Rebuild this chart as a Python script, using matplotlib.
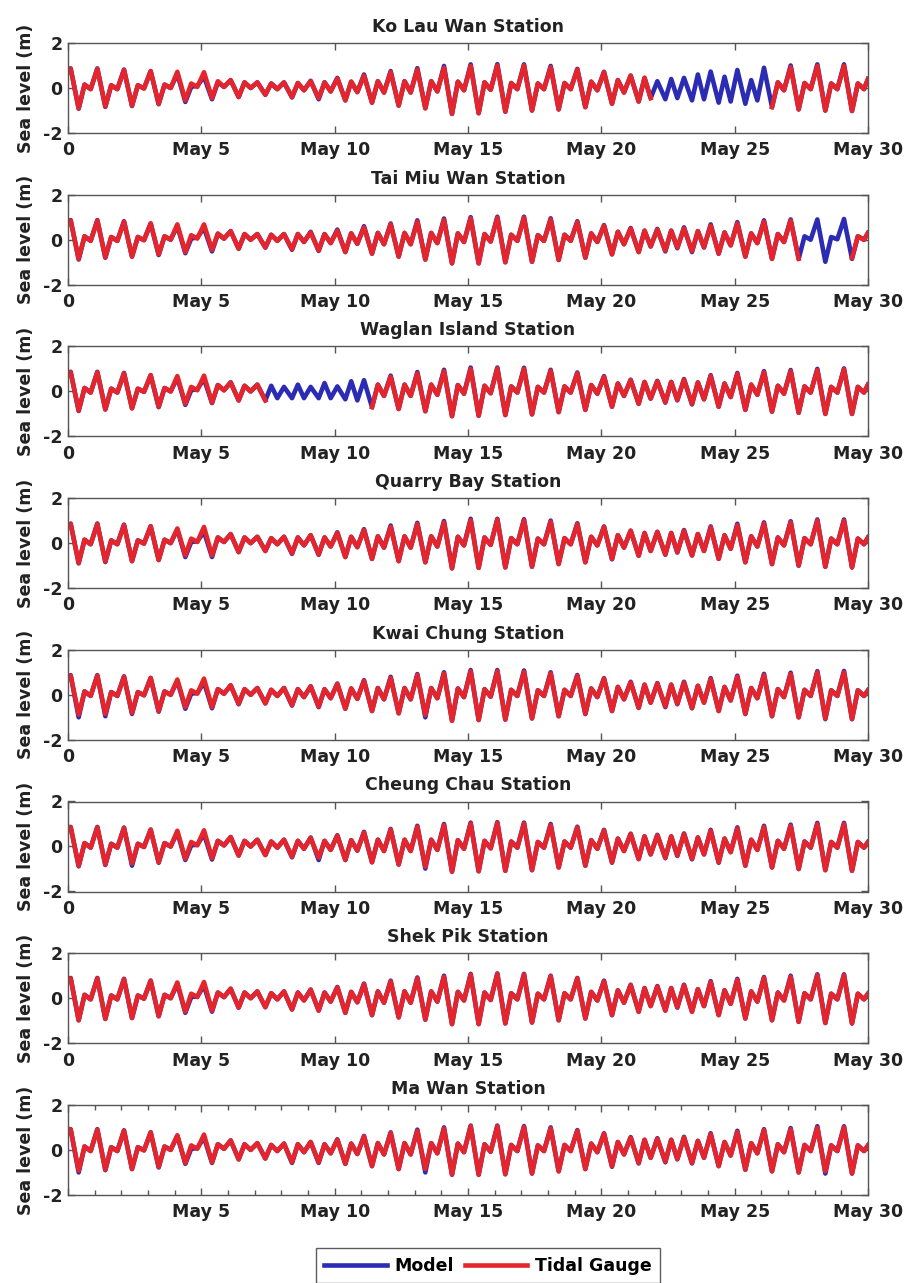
import numpy as np
import matplotlib
matplotlib.use("Agg")
import matplotlib.pyplot as plt
from matplotlib.lines import Line2D
from matplotlib.ticker import MultipleLocator

plt.rcParams['font.family'] = ['DejaVu Sans']
plt.rcParams['font.weight'] = 'bold'
plt.rcParams['axes.unicode_minus'] = False

n = np.nan

# tide extrema: start value, then 4 per day (higher high, lower low,
# lower high, higher low), then the value at the end of May 30
PHASE = [0.10, 0.40, 0.62, 0.85]
N_DAYS = 30

KLW_GAUGE = [0.85,
 .85,-.90,.15,-.05, .85,-.82,.12,-.05, .80,-.78,.12,-.02, .75,-.70,.15,.00, .72,-.55,.20,.05,
 .70,-.45,.30,.05, .35,-.40,.25,.00, .25,-.30,.20,-.05, .25,-.40,.22,-.10, .30,-.45,.25,-.15,
 .42,-.55,.28,-.18, .55,-.65,.30,-.20, .70,-.78,.30,-.20, .82,-.90,.30,-.15, .90,-1.15,.28,-.10,
 .98,-1.12,.25,-.08, 1.0,-1.05,.22,-.05, 1.0,-1.0,.20,-.05, .92,-.95,.22,-.05, .82,-.85,.28,-.10,
 .70,-.70,.35,-.20, .55,-.60,.45,-.45, n,n,n,n, n,n,n,n, n,n,n,n,
 n,n,n,n, n,-.85,.25,-.10, .92,-.95,.22,-.05, .98,-1.0,.20,-.05, .98,-1.02,.20,-.05,
 .40]
KLW_MODEL = [0.85,
 .87,-.92,.15,-.05, .87,-.84,.12,-.05, .82,-.80,.12,-.02, .75,-.72,.15,.00, .62,-.62,.05,.10,
 .50,-.50,.25,.05, .35,-.40,.25,.00, .25,-.30,.20,-.05, .25,-.42,.22,-.10, .32,-.50,.25,-.15,
 .45,-.55,.28,-.18, .60,-.65,.30,-.20, .75,-.78,.30,-.20, .88,-.90,.30,-.15, .98,-1.15,.28,-.10,
 1.05,-1.12,.25,-.08, 1.06,-1.05,.22,-.05, 1.05,-1.0,.20,-.05, .98,-.95,.22,-.05, .85,-.85,.28,-.10,
 .72,-.70,.35,-.20, .55,-.60,.45,-.45, .30,-.50,.40,-.45, .45,-.55,.60,-.50, .73,-.65,.50,-.60,
 .80,-.70,.35,-.55, .90,-.85,.25,-.10, 1.0,-.95,.22,-.05, 1.05,-1.0,.20,-.05, 1.05,-1.02,.20,-.05,
 .40]

TMW_GAUGE = [0.85,
 .85,-.85,.15,-.05, .85,-.78,.12,-.05, .80,-.75,.12,-.02, .72,-.65,.15,.00, .68,-.55,.20,.05,
 .68,-.45,.28,.05, .38,-.40,.25,.00, .25,-.35,.22,-.05, .25,-.42,.25,-.10, .32,-.48,.25,-.15,
 .40,-.55,.28,-.18, .55,-.62,.30,-.20, .68,-.75,.30,-.20, .80,-.88,.30,-.15, .88,-1.05,.28,-.10,
 .95,-1.05,.25,-.08, .98,-1.0,.22,-.05, .98,-.98,.20,-.05, .90,-.90,.22,-.05, .78,-.80,.28,-.10,
 .62,-.65,.35,-.20, .50,-.55,.40,-.30, .45,-.48,.40,-.35, .50,-.50,.38,-.32, .62,-.62,.32,-.25,
 .72,-.75,.28,-.15, .80,-.85,.25,-.10, .85,-.85,n,n, n,n,n,n, n,-.80,.15,.00,
 .30]
TMW_MODEL = [0.85,
 .87,-.88,.15,-.05, .87,-.80,.12,-.05, .82,-.75,.12,-.02, .72,-.68,.15,.00, .60,-.60,.05,.10,
 .52,-.52,.25,.05, .38,-.40,.25,.00, .25,-.35,.22,-.05, .25,-.45,.25,-.10, .35,-.50,.25,-.15,
 .45,-.55,.28,-.18, .60,-.62,.30,-.20, .72,-.75,.30,-.20, .86,-.88,.30,-.15, .94,-1.05,.28,-.10,
 1.0,-1.05,.25,-.08, 1.02,-1.0,.22,-.05, 1.02,-.98,.20,-.05, .95,-.90,.22,-.05, .82,-.80,.28,-.10,
 .65,-.65,.35,-.20, .52,-.55,.40,-.30, .48,-.52,.40,-.38, .55,-.55,.38,-.35, .68,-.62,.32,-.25,
 .78,-.75,.28,-.15, .86,-.85,.25,-.10, .90,-.85,.15,.00, .90,-.98,.12,.02, .92,-.85,.15,.00,
 .30]

WGL_GAUGE = [0.85,
 .85,-.85,.15,-.05, .85,-.80,.12,-.05, .80,-.75,.12,-.02, .72,-.68,.15,.00, .68,-.55,.20,.05,
 .70,-.50,.28,.05, .40,-.40,.25,.00, .30,-.40,n,n, n,n,n,n, n,n,n,n,
 n,n,n,n, n,-.70,.30,-.20, .65,-.78,.30,-.20, .80,-.88,.30,-.15, .90,-1.10,.28,-.10,
 1.0,-1.08,.25,-.08, 1.02,-1.05,.22,-.05, 1.0,-1.02,.20,-.05, .92,-.92,.22,-.05, .80,-.82,.28,-.10,
 .65,-.68,.35,-.20, .50,-.55,.42,-.32, .45,-.48,.42,-.38, .52,-.55,.40,-.35, .68,-.68,.35,-.25,
 .78,-.82,.30,-.15, .85,-.90,.25,-.10, .90,-.95,.22,-.05, .95,-1.0,.20,-.05, .98,-1.0,.20,-.05,
 .30]
WGL_MODEL = [0.85,
 .87,-.87,.15,-.05, .87,-.80,.12,-.05, .82,-.75,.12,-.02, .72,-.70,.15,.00, .60,-.60,.05,.10,
 .55,-.52,.28,.05, .40,-.40,.25,.00, .30,-.40,.25,-.30, .20,-.30,.30,-.30, .20,-.30,.37,-.30,
 .22,-.35,.45,-.40, .50,-.70,.30,-.20, .70,-.78,.30,-.20, .86,-.88,.30,-.15, .96,-1.10,.28,-.10,
 1.06,-1.08,.25,-.08, 1.06,-1.05,.22,-.05, 1.05,-1.02,.20,-.05, .96,-.92,.22,-.05, .84,-.82,.28,-.10,
 .68,-.68,.35,-.20, .52,-.55,.42,-.32, .47,-.50,.42,-.40, .55,-.58,.40,-.35, .72,-.68,.35,-.25,
 .82,-.82,.30,-.15, .90,-.90,.25,-.10, .95,-.95,.22,-.05, 1.0,-1.0,.20,-.05, 1.02,-1.0,.20,-.05,
 .30]

QB_GAUGE = [0.80,
 .85,-.88,.15,-.05, .85,-.82,.12,-.05, .80,-.80,.12,-.02, .75,-.75,.15,.00, .65,-.55,.20,.05,
 .72,-.55,.25,.05, .40,-.40,.25,.00, .28,-.35,.22,-.05, .28,-.45,.25,-.10, .35,-.50,.25,-.15,
 .45,-.62,.28,-.18, .58,-.70,.30,-.20, .72,-.80,.30,-.20, .85,-.85,.30,-.15, .92,-1.12,.28,-.10,
 1.02,-1.10,.25,-.08, 1.05,-1.08,.22,-.05, 1.02,-1.05,.20,-.05, .95,-.93,.22,-.05, .85,-.85,.28,-.10,
 .72,-.70,.35,-.20, .55,-.56,.45,-.35, .50,-.50,.45,-.40, .55,-.55,.40,-.35, .70,-.70,.35,-.25,
 .80,-.85,.30,-.15, .87,-.93,.25,-.10, .92,-1.0,.22,-.05, 1.0,-1.05,.20,-.05, 1.0,-1.08,.20,-.05,
 .25]
QB_MODEL = [0.80,
 .87,-.90,.15,-.05, .87,-.84,.12,-.05, .82,-.80,.12,-.02, .75,-.75,.15,.00, .60,-.62,.05,.08,
 .50,-.62,.25,.05, .40,-.40,.25,.00, .28,-.35,.22,-.05, .28,-.48,.25,-.10, .35,-.52,.25,-.15,
 .48,-.62,.28,-.18, .62,-.70,.30,-.20, .78,-.80,.30,-.20, .90,-.85,.30,-.15, .98,-1.12,.28,-.10,
 1.08,-1.10,.25,-.08, 1.08,-1.08,.22,-.05, 1.06,-1.05,.20,-.05, 1.0,-.93,.22,-.05, .88,-.85,.28,-.10,
 .74,-.72,.35,-.20, .55,-.56,.45,-.35, .50,-.52,.45,-.42, .58,-.55,.40,-.35, .74,-.70,.35,-.25,
 .86,-.85,.30,-.15, .92,-.93,.25,-.10, .97,-1.0,.22,-.05, 1.05,-1.05,.20,-.05, 1.05,-1.08,.20,-.05,
 .25]

KC_GAUGE = [0.85,
 .85,-.88,.15,-.05, .85,-.85,.12,-.05, .80,-.80,.12,-.02, .75,-.72,.15,.00, .68,-.55,.20,.05,
 .72,-.55,.25,.05, .42,-.40,.25,.00, .30,-.38,.22,-.05, .30,-.45,.25,-.10, .38,-.52,.25,-.15,
 .48,-.62,.28,-.18, .62,-.72,.30,-.20, .75,-.82,.30,-.20, .88,-.90,.30,-.15, .95,-1.15,.28,-.10,
 1.05,-1.12,.25,-.08, 1.05,-1.10,.22,-.05, 1.02,-1.05,.20,-.05, .95,-.95,.22,-.05, .85,-.85,.28,-.10,
 .72,-.72,.35,-.20, .55,-.58,.45,-.35, .50,-.52,.45,-.40, .55,-.58,.40,-.35, .70,-.72,.35,-.25,
 .80,-.85,.30,-.15, .88,-.95,.25,-.10, .92,-1.0,.22,-.05, 1.0,-1.05,.20,-.05, 1.0,-1.08,.20,-.05,
 .20]
KC_MODEL = [0.85,
 .87,-1.0,.15,-.05, .87,-.95,.12,-.05, .82,-.85,.12,-.02, .75,-.75,.15,.00, .62,-.62,.05,.08,
 .55,-.60,.25,.05, .42,-.42,.25,.00, .30,-.38,.22,-.05, .30,-.48,.25,-.10, .38,-.55,.25,-.15,
 .50,-.62,.28,-.18, .65,-.72,.30,-.20, .80,-.82,.30,-.20, .92,-1.0,.30,-.15, 1.0,-1.15,.28,-.10,
 1.10,-1.12,.25,-.08, 1.10,-1.10,.22,-.05, 1.08,-1.05,.20,-.05, 1.0,-.95,.22,-.05, .88,-.85,.28,-.10,
 .74,-.72,.35,-.20, .58,-.58,.45,-.35, .52,-.55,.45,-.42, .58,-.60,.40,-.35, .74,-.72,.35,-.25,
 .85,-.85,.30,-.15, .93,-.95,.25,-.10, .98,-1.0,.22,-.05, 1.05,-1.08,.20,-.05, 1.06,-1.08,.20,-.05,
 .20]

CC_GAUGE = [0.85,
 .85,-.85,.15,-.05, .85,-.80,.12,-.05, .82,-.75,.12,-.02, .75,-.70,.15,.00, .70,-.55,.20,.05,
 .72,-.52,.25,.05, .42,-.40,.25,.00, .30,-.38,.22,-.05, .30,-.45,.25,-.10, .38,-.50,.25,-.15,
 .48,-.60,.28,-.18, .62,-.70,.30,-.20, .75,-.80,.30,-.20, .88,-.90,.30,-.15, .95,-1.12,.28,-.10,
 1.02,-1.10,.25,-.08, 1.05,-1.08,.22,-.05, 1.02,-1.05,.20,-.05, .95,-.93,.22,-.05, .85,-.85,.28,-.10,
 .72,-.70,.35,-.20, .55,-.56,.45,-.35, .50,-.50,.45,-.40, .55,-.55,.40,-.35, .70,-.70,.35,-.25,
 .80,-.85,.30,-.15, .87,-.93,.25,-.10, .92,-1.0,.22,-.05, 1.0,-1.05,.20,-.05, 1.0,-1.08,.20,-.05,
 .20]
CC_MODEL = [0.85,
 .87,-.88,.15,-.05, .87,-.82,.12,-.05, .84,-.85,.12,-.02, .75,-.72,.15,.00, .62,-.60,.05,.08,
 .55,-.58,.25,.05, .42,-.40,.25,.00, .30,-.38,.22,-.05, .30,-.48,.25,-.10, .40,-.60,.25,-.15,
 .50,-.60,.28,-.18, .65,-.70,.30,-.20, .78,-.80,.30,-.20, .92,-.98,.30,-.15, 1.0,-1.12,.28,-.10,
 1.06,-1.10,.25,-.08, 1.08,-1.08,.22,-.05, 1.06,-1.05,.20,-.05, 1.0,-.93,.22,-.05, .88,-.85,.28,-.10,
 .74,-.72,.35,-.20, .57,-.56,.45,-.35, .52,-.52,.45,-.42, .58,-.57,.40,-.35, .74,-.72,.35,-.25,
 .85,-.85,.30,-.15, .92,-.93,.25,-.10, .97,-1.0,.22,-.05, 1.05,-1.05,.20,-.05, 1.05,-1.08,.20,-.05,
 .20]

SP_GAUGE = [0.85,
 .88,-.98,.15,-.05, .88,-.92,.12,-.05, .85,-.88,.12,-.02, .78,-.80,.15,.00, .70,-.60,.20,.05,
 .72,-.55,.25,.05, .42,-.42,.25,.00, .30,-.40,.22,-.05, .30,-.50,.25,-.10, .38,-.55,.25,-.15,
 .48,-.65,.28,-.18, .62,-.75,.30,-.20, .75,-.85,.30,-.20, .88,-.95,.30,-.15, .95,-1.15,.28,-.10,
 1.05,-1.15,.25,-.08, 1.08,-1.12,.22,-.05, 1.05,-1.08,.20,-.05, .98,-.98,.22,-.05, .88,-.90,.28,-.10,
 .75,-.75,.35,-.20, .58,-.60,.45,-.35, .52,-.55,.45,-.40, .58,-.60,.40,-.35, .72,-.75,.35,-.25,
 .82,-.90,.30,-.15, .90,-.98,.25,-.10, .95,-1.05,.22,-.05, 1.02,-1.10,.20,-.05, 1.02,-1.12,.20,-.05,
 .20]
SP_MODEL = [0.85,
 .90,-.98,.15,-.05, .90,-.92,.12,-.05, .86,-.88,.12,-.02, .78,-.80,.15,.00, .62,-.65,.05,.08,
 .55,-.60,.25,.05, .42,-.42,.25,.00, .30,-.40,.22,-.05, .30,-.50,.25,-.10, .38,-.55,.25,-.15,
 .50,-.65,.28,-.18, .65,-.75,.30,-.20, .78,-.85,.30,-.20, .92,-.95,.30,-.15, 1.0,-1.15,.28,-.10,
 1.08,-1.15,.25,-.08, 1.10,-1.12,.22,-.05, 1.08,-1.08,.20,-.05, 1.0,-.98,.22,-.05, .90,-.90,.28,-.10,
 .78,-.75,.35,-.20, .60,-.60,.45,-.35, .54,-.55,.45,-.42, .60,-.60,.40,-.35, .76,-.75,.35,-.25,
 .86,-.90,.30,-.15, .94,-.98,.25,-.10, 1.0,-1.05,.22,-.05, 1.06,-1.10,.20,-.05, 1.06,-1.12,.20,-.05,
 .20]

MW_GAUGE = [0.95,
 .90,-.92,.15,-.05, .90,-.88,.12,-.05, .85,-.85,.12,-.02, .78,-.75,.15,.00, .65,-.58,.20,.05,
 .68,-.55,.25,.05, .42,-.42,.25,.00, .30,-.38,.22,-.05, .28,-.55,.25,-.10, .35,-.55,.25,-.15,
 .45,-.62,.28,-.18, .60,-.72,.30,-.20, .75,-.85,.30,-.20, .85,-.85,.30,-.15, .95,-1.10,.28,-.10,
 1.05,-1.10,.25,-.08, 1.05,-1.08,.22,-.05, 1.02,-1.05,.20,-.05, .95,-.95,.22,-.05, .85,-.85,.28,-.10,
 .72,-.72,.35,-.20, .55,-.58,.45,-.35, .50,-.52,.45,-.40, .55,-.58,.40,-.35, .70,-.72,.35,-.25,
 .80,-.88,.30,-.15, .88,-.95,.25,-.10, .92,-1.0,.22,-.05, .98,-.95,.20,-.05, 1.0,-1.05,.20,-.05,
 .20]
MW_MODEL = [0.75,
 .92,-1.0,.15,-.05, .92,-.90,.12,-.05, .87,-.85,.12,-.02, .78,-.78,.15,.00, .62,-.62,.05,.08,
 .55,-.58,.25,.05, .42,-.42,.25,.00, .30,-.38,.22,-.05, .28,-.58,.25,-.10, .35,-.58,.25,-.15,
 .47,-.62,.28,-.18, .62,-.72,.30,-.20, .78,-.85,.30,-.20, .90,-1.0,.30,-.15, 1.0,-1.10,.28,-.10,
 1.08,-1.10,.25,-.08, 1.08,-1.08,.22,-.05, 1.06,-1.05,.20,-.05, 1.0,-.95,.22,-.05, .88,-.85,.28,-.10,
 .74,-.75,.35,-.20, .57,-.60,.45,-.35, .52,-.55,.45,-.42, .58,-.60,.40,-.35, .74,-.72,.35,-.25,
 .85,-.88,.30,-.15, .92,-.95,.25,-.10, .97,-1.0,.22,-.05, 1.05,-1.05,.20,-.05, 1.05,-1.05,.20,-.05,
 .20]

STATIONS = ["Ko Lau Wan Station", "Tai Miu Wan Station", "Waglan Island Station",
            "Quarry Bay Station", "Kwai Chung Station", "Cheung Chau Station",
            "Shek Pik Station", "Ma Wan Station"]
MODELS = [KLW_MODEL, TMW_MODEL, WGL_MODEL, QB_MODEL, KC_MODEL, CC_MODEL, SP_MODEL, MW_MODEL]
GAUGES = [KLW_GAUGE, TMW_GAUGE, WGL_GAUGE, QB_GAUGE, KC_GAUGE, CC_GAUGE, SP_GAUGE, MW_GAUGE]

TICK_DAYS = [0, 5, 10, 15, 20, 25, 30]
TICK_LABELS = ["0", "May 5", "May 10", "May 15", "May 20", "May 25", "May 30"]

BLUE = "#2b2bb3"
RED = "#e4252b"
FRAME = "#555555"
TEXT = "#222222"

t = np.concatenate([[0.0], (np.arange(N_DAYS)[:, None] + np.array(PHASE)).ravel(), [float(N_DAYS)]])

W, H = 907, 1283
fig = plt.figure(figsize=(W / 100, H / 100), dpi=100)

for i, title in enumerate(STATIONS):
    top = 43 + i * 151.7
    ax = fig.add_axes([68 / W, 1 - (top + 90) / H, 800 / W, 90 / H])
    ax.plot(t, np.array(MODELS[i], dtype=float), color=BLUE, lw=3.3)
    ax.plot(t, np.array(GAUGES[i], dtype=float), color=RED, lw=3.3)
    ax.set_xlim(0, 30)
    ax.set_ylim(-2, 2)
    ax.set_yticks([-2, 0, 2])
    ax.set_xticks(TICK_DAYS)
    if i == len(STATIONS) - 1:
        ax.set_xticklabels([""] + TICK_LABELS[1:])
        ax.xaxis.set_minor_locator(MultipleLocator(1))
    else:
        ax.set_xticklabels(TICK_LABELS)
    ax.tick_params(axis='both', which='major', direction='in', top=True, right=True,
                   length=5, width=1, color=FRAME, labelcolor=TEXT, labelsize=12.5)
    ax.tick_params(axis='x', which='minor', direction='in', top=True,
                   length=3.5, width=1, color=FRAME)
    ax.tick_params(axis='x', which='major', pad=6)
    ax.tick_params(axis='y', which='major', pad=4)
    for s in ax.spines.values():
        s.set_color(FRAME)
        s.set_linewidth(1)
    ax.set_title(title, fontsize=12.5, fontweight='bold', color=TEXT, pad=8)
    ax.set_ylabel("Sea level (m)", fontsize=12.5, fontweight='bold', color=TEXT)
    ax.yaxis.set_label_coords(-0.041, 0.5)

handles = [Line2D([], [], color=BLUE, lw=3.3), Line2D([], [], color=RED, lw=3.3)]
leg = fig.legend(handles, ["Model", "Tidal Gauge"], loc='upper center',
                 bbox_to_anchor=(488 / W, 1 - 1248 / H), ncol=2, frameon=True,
                 fancybox=False, edgecolor="#333333", fontsize=12.5,
                 handlelength=3.6, handletextpad=0.45, columnspacing=0.6,
                 borderpad=0.5, borderaxespad=0)
leg.get_frame().set_linewidth(1)

fig.savefig("out.png", dpi=100)
